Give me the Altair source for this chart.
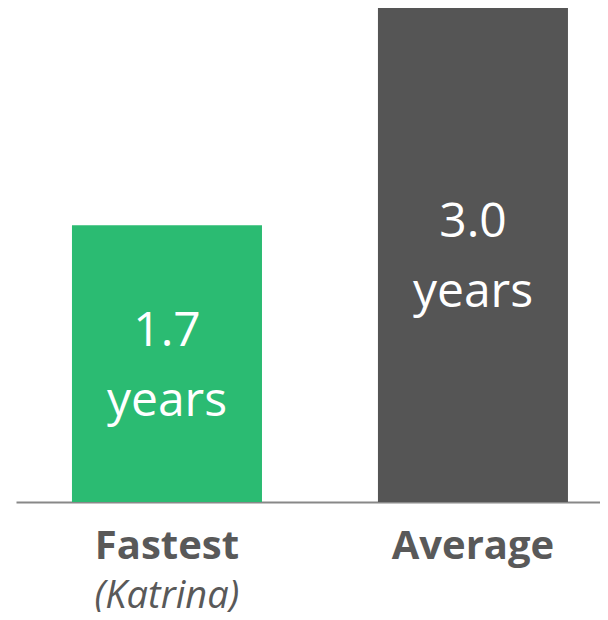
import altair as alt
import pandas as pd

categories = ["Fastest", "Average"]
bar_values = [1.68, 3.0]
value_labels = ["1.7", "3.0"]
unit_label = "years"
subtitles = ["(Katrina)", ""]
colors = ["#2BBB72", "#555555"]

df = pd.DataFrame({
    "cat": categories,
    "val": bar_values,
    "label": [[v, unit_label] for v in value_labels],
    "sub": subtitles,
    "color": colors,
})

W, H = 584, 494
FONT = "Open Sans"

x = alt.X("cat:N", sort=categories,
          scale=alt.Scale(paddingInner=0.379, paddingOuter=0.1438, align=0.636),
          axis=alt.Axis(title=None, labelAngle=0, ticks=False, tickSize=0,
                        domainColor="#888888", domainWidth=2,
                        labelFont=FONT, labelFontSize=40, labelFontWeight="bold",
                        labelColor="#595959", labelPadding=56, labelBaseline="alphabetic"))
y = alt.Y("val:Q", scale=alt.Scale(domain=[0, 3.0], nice=False, zero=True), axis=None)

base = alt.Chart(df).encode(x=x)

bars = base.mark_bar().encode(y=y, color=alt.Color("color:N", scale=None))

inner = base.transform_calculate(mid="datum.val / 2").mark_text(
    font=FONT, fontSize=48, color="white", align="center", baseline="middle",
    lineHeight=70, dy=-32
).encode(y=alt.Y("mid:Q", scale=alt.Scale(domain=[0, 3.0], nice=False)), text="label")

sub = base.mark_text(
    font=FONT, fontSize=38, fontStyle="italic", color="#595959",
    align="center", baseline="alphabetic", dy=106
).encode(y=alt.value(H), text="sub:N")

chart = alt.layer(bars, inner, sub).properties(
    width=W, height=H,
    padding={"left": 8, "top": 0, "right": 0, "bottom": 110},
    autosize=alt.AutoSizeParams(type="none"),
).configure_view(stroke=None)

chart.save("out.html", embed_options={"renderer": "svg", "actions": False})
